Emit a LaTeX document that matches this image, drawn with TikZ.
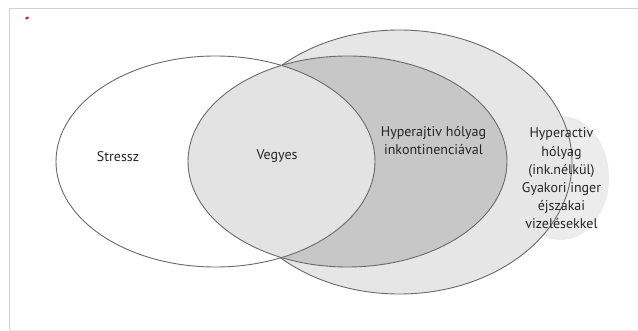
\documentclass[tikz,border=0pt]{standalone}
\usepackage{fontspec}
\setmainfont{PT Sans}
\definecolor{lightfill}{HTML}{E6E6E6}
\definecolor{bulgefill}{HTML}{ECECEC}
\definecolor{mixfill}{HTML}{E3E3E3}
\definecolor{darkfill}{HTML}{C7C7C7}
\definecolor{edge}{HTML}{6A6A6A}
\definecolor{framegray}{HTML}{D2D2D2}
\definecolor{redmark}{HTML}{D0103A}
\tikzset{
  outline/.style={draw=edge, line width=0.9pt},
  label/.style={align=center, text=black!85, font=\fontsize{14}{18.2}\selectfont, inner sep=0pt},
}
\begin{document}
\begin{tikzpicture}[x=1pt, y=-1pt]
\useasboundingbox (0,0) rectangle (638,331);
\fill[white] (0,0) rectangle (638,331);
% frame
\draw[framegray, line width=1pt] (9,330) -- (9,9) -- (638,9);
\draw[framegray!50, line width=0.6pt] (9,330) -- (638,330);
% red mark
\fill[redmark, rotate around={30:(27,18)}] (27,18) ellipse (2 and 1.1);
% outer ellipse
\fill[lightfill] (399.3,162) ellipse (172.7 and 132);
\fill[bulgefill] (561,178) ellipse (48 and 62);
\fill[lightfill] (399.3,162) ellipse (172.7 and 132);
\draw[outline] (399.3,162) ellipse (172.7 and 132);
% middle ellipse
\fill[darkfill] (347.5,161.5) ellipse (159.5 and 105.5);
% stressz ellipse
\fill[white] (215.5,161.5) ellipse (159.5 and 105.5);
\begin{scope}
  \clip (215.5,161.5) ellipse (159.5 and 105.5);
  \fill[mixfill] (347.5,161.5) ellipse (159.5 and 105.5);
\end{scope}
\draw[outline] (347.5,161.5) ellipse (159.5 and 105.5);
\draw[outline] (215.5,161.5) ellipse (159.5 and 105.5);
% labels
\node[label] (stressz) at (118,157) {Stressz};
\node[label] (vegyes) at (277,156) {Vegyes};
\node[label] (hyperinc) at (433.5,140.5) {Hyperajtiv hólyag\\inkontinenciával};
\node[label] (hyperact) at (561.5,178.5) {Hyperactiv\\hólyag\\(ink.nélkül)\\Gyakori inger\\éjszakai\\vizelésekkel};
\end{tikzpicture}
\end{document}
